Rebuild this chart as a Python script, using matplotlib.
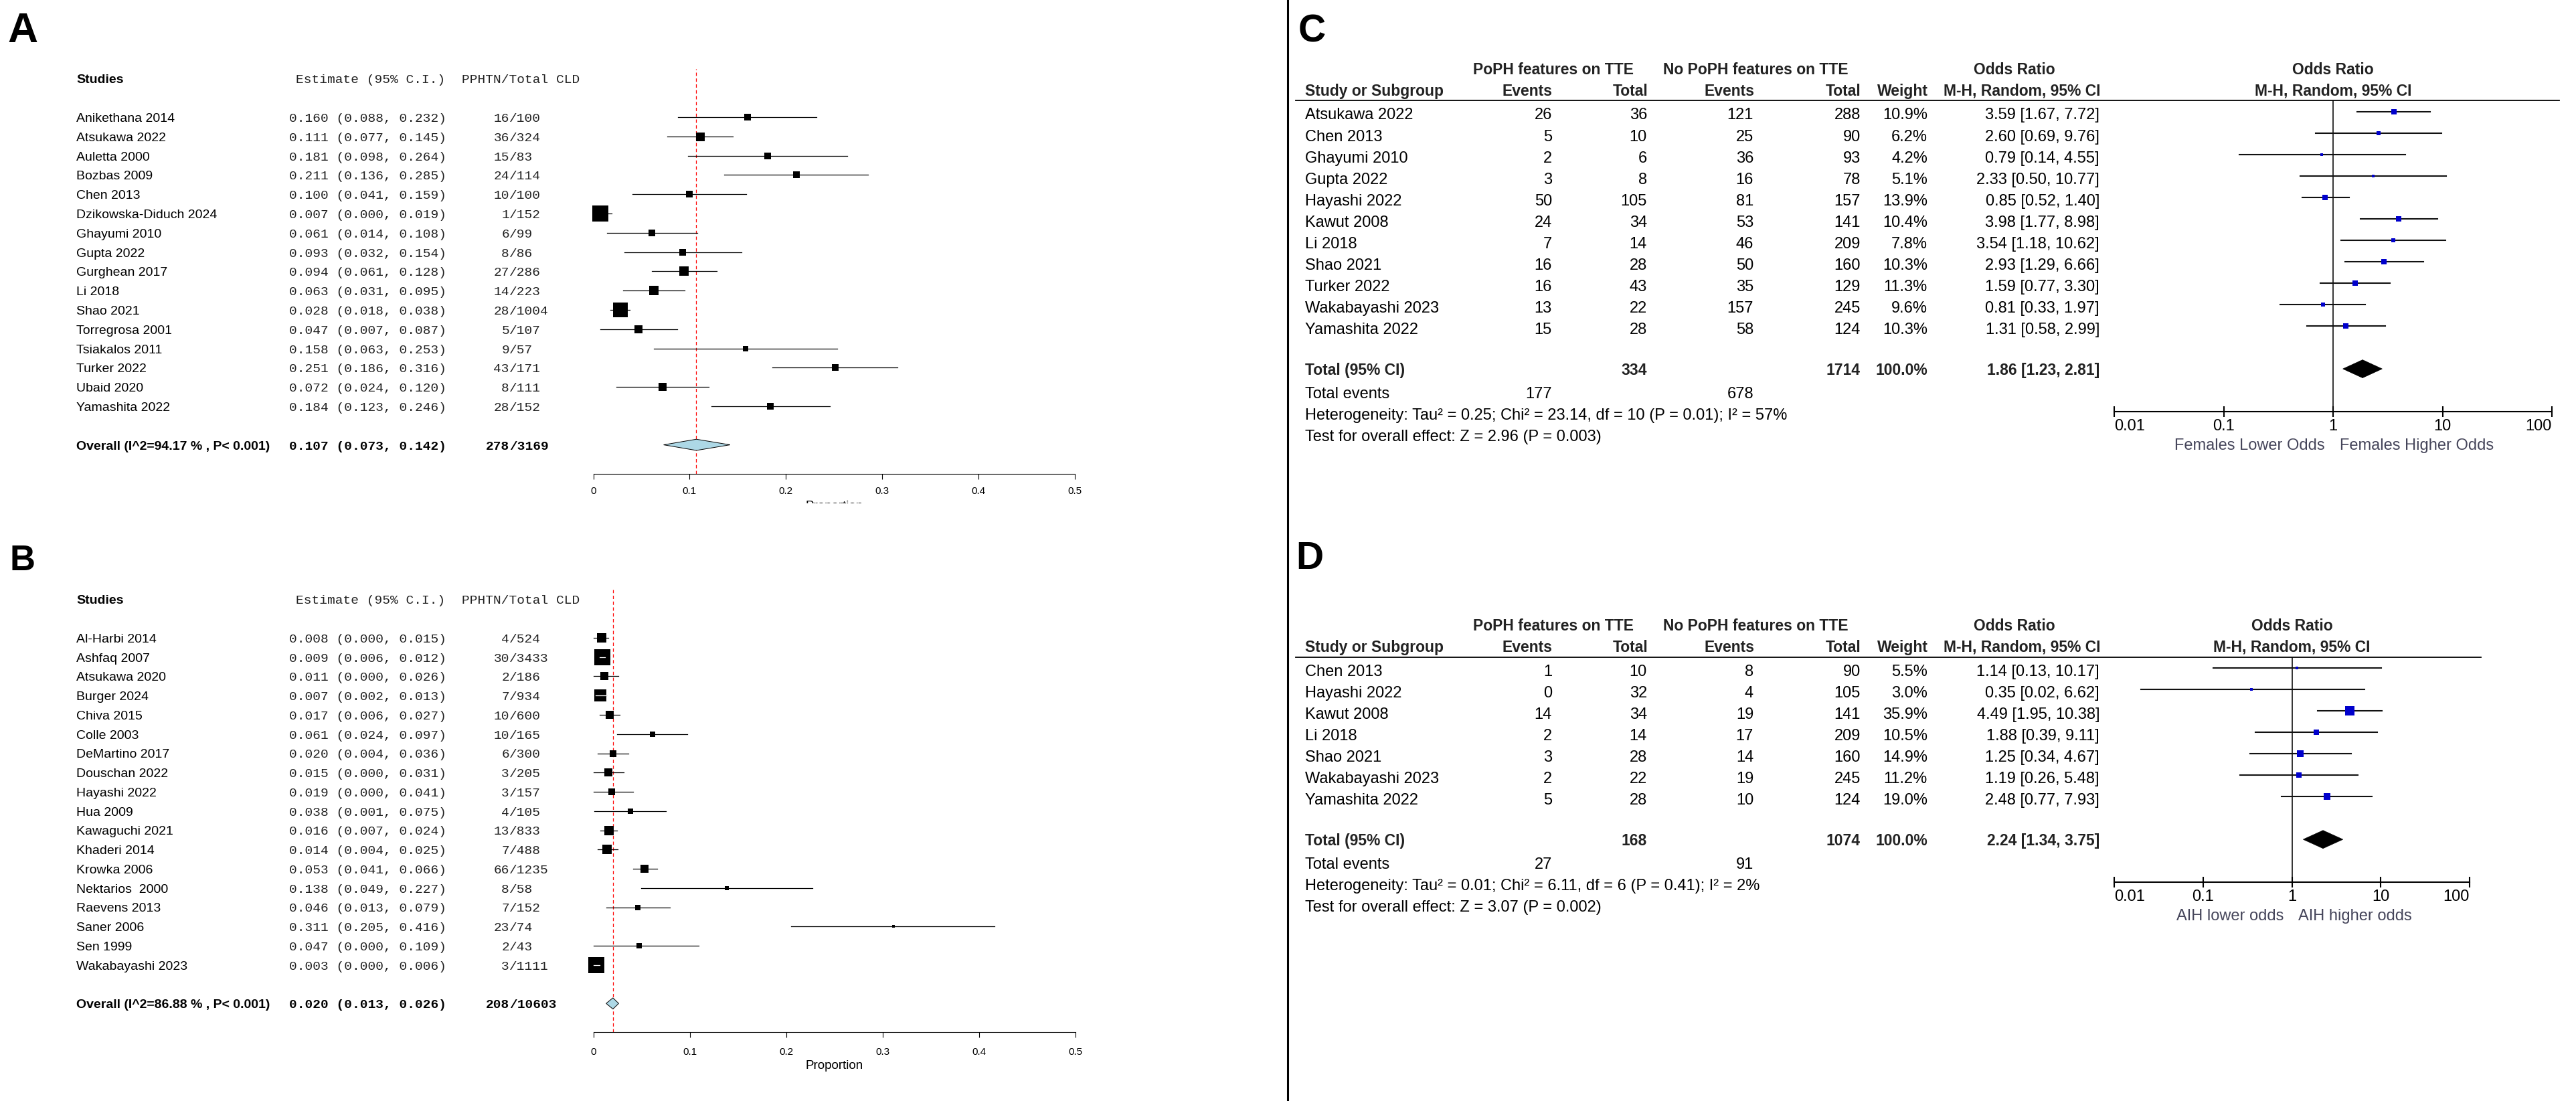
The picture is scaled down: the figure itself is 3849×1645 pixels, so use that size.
import numpy as np
import matplotlib
matplotlib.use("Agg")
import matplotlib.pyplot as plt
from matplotlib.patches import Polygon
from matplotlib.lines import Line2D
from matplotlib.ticker import NullLocator
from matplotlib.transforms import blended_transform_factory, offset_copy, Bbox, TransformedBbox

## ---- Panel A: PPHTN in chronic liver disease ----
studies_a = ["Anikethana 2014", "Atsukawa 2022", "Auletta 2000", "Bozbas 2009", "Chen 2013",
             "Dzikowska-Diduch 2024", "Ghayumi 2010", "Gupta 2022", "Gurghean 2017", "Li 2018",
             "Shao 2021", "Torregrosa 2001", "Tsiakalos 2011", "Turker 2022", "Ubaid 2020",
             "Yamashita 2022"]
est_a = [0.160, 0.111, 0.181, 0.211, 0.100, 0.007, 0.061, 0.093, 0.094, 0.063, 0.028, 0.047,
         0.158, 0.251, 0.072, 0.184]
lo_a = [0.088, 0.077, 0.098, 0.136, 0.041, 0.000, 0.014, 0.032, 0.061, 0.031, 0.018, 0.007,
        0.063, 0.186, 0.024, 0.123]
hi_a = [0.232, 0.145, 0.264, 0.285, 0.159, 0.019, 0.108, 0.154, 0.128, 0.095, 0.038, 0.087,
        0.253, 0.316, 0.120, 0.246]
cases_a = [16, 36, 15, 24, 10, 1, 6, 8, 27, 14, 28, 5, 9, 43, 8, 28]
total_a = [100, 324, 83, 114, 100, 152, 99, 86, 286, 223, 1004, 107, 57, 171, 111, 152]
# relative study weights
wt_a = [10, 13, 9.3, 9.3, 10.6, 24, 10.6, 10.6, 13.3, 14, 23, 12, 8, 9.3, 11.3, 10]
pooled_a = [0.107, 0.073, 0.142]
i2_a = 94.17

## ---- Panel B ----
studies_b = ["Al-Harbi 2014", "Ashfaq 2007", "Atsukawa 2020", "Burger 2024", "Chiva 2015",
             "Colle 2003", "DeMartino 2017", "Douschan 2022", "Hayashi 2022", "Hua 2009",
             "Kawaguchi 2021", "Khaderi 2014", "Krowka 2006", "Nektarios  2000", "Raevens 2013",
             "Saner 2006", "Sen 1999", "Wakabayashi 2023"]
est_b = [0.008, 0.009, 0.011, 0.007, 0.017, 0.061, 0.020, 0.015, 0.019, 0.038, 0.016, 0.014,
         0.053, 0.138, 0.046, 0.311, 0.047, 0.003]
lo_b = [0.000, 0.006, 0.000, 0.002, 0.006, 0.024, 0.004, 0.000, 0.000, 0.001, 0.007, 0.004,
        0.041, 0.049, 0.013, 0.205, 0.000, 0.000]
hi_b = [0.015, 0.012, 0.026, 0.013, 0.027, 0.097, 0.036, 0.031, 0.041, 0.075, 0.024, 0.025,
        0.066, 0.227, 0.079, 0.416, 0.109, 0.006]
cases_b = [4, 30, 2, 7, 10, 10, 6, 3, 3, 4, 13, 7, 66, 8, 7, 23, 2, 3]
total_b = [524, 3433, 186, 934, 600, 165, 300, 205, 157, 105, 833, 488, 1235, 58, 152, 74, 43, 1111]
wt_b = [14, 24, 12, 18, 12.6, 7.3, 10.6, 11.3, 10, 7.3, 14, 13.3, 12, 5.3, 8, 4, 7.3, 24]
pooled_b = [0.020, 0.013, 0.026]
i2_b = 86.88

prop_ticks = [0, 0.1, 0.2, 0.3, 0.4, 0.5]
prop_tick_labels = ["0", "0.1", "0.2", "0.3", "0.4", "0.5"]

## ---- Panel C: odds ratio, females ----
studies_c = ["Atsukawa 2022", "Chen 2013", "Ghayumi 2010", "Gupta 2022", "Hayashi 2022",
             "Kawut 2008", "Li 2018", "Shao 2021", "Turker 2022", "Wakabayashi 2023",
             "Yamashita 2022"]
ev1_c = [26, 5, 2, 3, 50, 24, 7, 16, 16, 13, 15]
tot1_c = [36, 10, 6, 8, 105, 34, 14, 28, 43, 22, 28]
ev2_c = [121, 25, 36, 16, 81, 53, 46, 50, 35, 157, 58]
tot2_c = [288, 90, 93, 78, 157, 141, 209, 160, 129, 245, 124]
wt_c = [10.9, 6.2, 4.2, 5.1, 13.9, 10.4, 7.8, 10.3, 11.3, 9.6, 10.3]
or_c = [3.59, 2.60, 0.79, 2.33, 0.85, 3.98, 3.54, 2.93, 1.59, 0.81, 1.31]
orlo_c = [1.67, 0.69, 0.14, 0.50, 0.52, 1.77, 1.18, 1.29, 0.77, 0.33, 0.58]
orhi_c = [7.72, 9.76, 4.55, 10.77, 1.40, 8.98, 10.62, 6.66, 3.30, 1.97, 2.99]
pooled_c = [1.86, 1.23, 2.81]
het_c = "Heterogeneity: Tau² = 0.25; Chi² = 23.14, df = 10 (P = 0.01); I² = 57%"
test_c = "Test for overall effect: Z = 2.96 (P = 0.003)"
foot_c = ["Females Lower Odds", "Females Higher Odds"]

## ---- Panel D: odds ratio, AIH ----
studies_d = ["Chen 2013", "Hayashi 2022", "Kawut 2008", "Li 2018", "Shao 2021",
             "Wakabayashi 2023", "Yamashita 2022"]
ev1_d = [1, 0, 14, 2, 3, 2, 5]
tot1_d = [10, 32, 34, 14, 28, 22, 28]
ev2_d = [8, 4, 19, 17, 14, 19, 10]
tot2_d = [90, 105, 141, 209, 160, 245, 124]
wt_d = [5.5, 3.0, 35.9, 10.5, 14.9, 11.2, 19.0]
or_d = [1.14, 0.35, 4.49, 1.88, 1.25, 1.19, 2.48]
orlo_d = [0.13, 0.02, 1.95, 0.39, 0.34, 0.26, 0.77]
orhi_d = [10.17, 6.62, 10.38, 9.11, 4.67, 5.48, 7.93]
pooled_d = [2.24, 1.34, 3.75]
het_d = "Heterogeneity: Tau² = 0.01; Chi² = 6.11, df = 6 (P = 0.41); I² = 2%"
test_d = "Test for overall effect: Z = 3.07 (P = 0.002)"
foot_d = ["AIH lower odds", "AIH higher odds"]

or_ticks = [0.01, 0.1, 1, 10, 100]
or_tick_labels = ["0.01", "0.1", "1", "10", "100"]

## ---- figure ----
W, H, DPI = 3849, 1645, 100
plt.rcParams['font.family'] = ['Liberation Sans', 'DejaVu Sans']
MONO = ['Liberation Mono', 'DejaVu Sans Mono']

fig = plt.figure(figsize=(W / DPI, H / DPI), dpi=DPI)
fig.patch.set_facecolor('white')


def add_ax(x0, x1, y0, y1):
    ## axes placed in pixels of the canvas
    return fig.add_axes([x0 / W, 1 - y1 / H, (x1 - x0) / W, (y1 - y0) / H])


def put(ax, step, x, row, s, size, dy=0.0, **kw):
    ## table text: x in canvas pixels, y in row units of ax (row = centre of glyphs)
    tr = blended_transform_factory(fig.transFigure, ax.transData)
    y = row + (0.358 * size * DPI / 72 + dy) / step
    return ax.text(x / W, y, s, transform=tr, fontsize=size, va='baseline', **kw)


def prop_forest(names, est, lo, hi, cases, total, wt, pooled, i2, row0, step, x0, x1,
                letter, letter_y, letter_size, tick_base, lab_base, clip_y=None):
    n = len(names)
    ax = add_ax(x0, x1, row0 - 2.5 * step, row0 + (n + 2.5) * step)
    ax.set_xlim(0, 0.5)
    ax.set_ylim(n + 2.5, -2.5)
    ax.patch.set_visible(False)
    for s in ['left', 'right', 'top']:
        ax.spines[s].set_visible(False)
    ax.spines['bottom'].set_linewidth(0.8)
    ax.set_yticks([])
    ax.set_xticks(prop_ticks)
    ax.tick_params(axis='x', direction='out', length=5.5, width=0.8, labelbottom=False)
    for t, lab in zip(prop_ticks, prop_tick_labels):
        ax.text(t, n + 2.5 + tick_base / step, lab, ha='center', va='baseline', fontsize=11)
    xl = ax.text(0.25, n + 2.5 + lab_base / step, 'Proportion', ha='center', va='baseline',
                 fontsize=13.5)
    if clip_y is not None:
        xl.set_clip_box(TransformedBbox(Bbox([[0, 1 - clip_y / H], [1, 1]]), fig.transFigure))
        xl.set_clip_on(True)

    ax.axvline(pooled[0], color='red', lw=0.9, ls=(0, (4, 3)), zorder=1)

    ppu = (x1 - x0) / 0.5
    for i in range(n):
        half = wt[i] / 2 / ppu
        ax.plot([lo[i], hi[i]], [i, i], color='black', lw=0.9, clip_on=False, zorder=2)
        ax.plot(est[i], i, marker='s', ms=wt[i] * 72 / DPI, color='black', mew=0,
                clip_on=False, zorder=3)
        if lo[i] >= est[i] - half and hi[i] <= est[i] + half:
            ax.plot([lo[i], hi[i]], [i, i], color='white', lw=0.9, clip_on=False, zorder=4)

    h = 0.29
    ax.add_patch(Polygon([[pooled[1], n + 1], [pooled[0], n + 1 - h], [pooled[2], n + 1],
                          [pooled[0], n + 1 + h]], closed=True, fc='#ADD8E6', ec='black',
                         lw=0.7, clip_on=False, zorder=3))

    ## table on the left
    put(ax, step, 114, -2, 'Studies', 14, fontweight='bold')
    put(ax, step, 442, -2, 'Estimate (95% C.I.)', 14, family=MONO, color='#222222')
    put(ax, step, 690, -2, 'PPHTN/Total CLD', 14, family=MONO, color='#222222')
    for i in range(n):
        put(ax, step, 114, i, names[i], 14)
        put(ax, step, 432, i, f"{est[i]:.3f} ({lo[i]:.3f}, {hi[i]:.3f})", 14, family=MONO,
            color='#222222')
        put(ax, step, 761, i, str(cases[i]), 14, family=MONO, color='#222222', ha='right')
        put(ax, step, 761, i, '/' + str(total[i]), 14, family=MONO, color='#222222')
    ov = n + 1
    put(ax, step, 114, ov, f"Overall (I^2={i2:.2f} % , P< 0.001)", 14, fontweight='bold')
    put(ax, step, 432, ov, f"{pooled[0]:.3f} ({pooled[1]:.3f}, {pooled[2]:.3f})", 14,
        family=MONO, fontweight='bold')
    put(ax, step, 761, ov, str(sum(cases)), 14, family=MONO, fontweight='bold', ha='right')
    put(ax, step, 761, ov, '/' + str(sum(total)), 14, family=MONO, fontweight='bold')

    fig.text(34 / W, 1 - letter_y / H, letter, ha='center', va='baseline',
             fontsize=letter_size, fontweight='bold')
    return ax


def or_forest(names, ev1, tot1, ev2, tot2, wt, orr, lo, hi, pooled, het, test, foot,
              row0, step, x1, line_end, letter, letter_xy):
    n = len(names)
    ax = add_ax(3159, x1, row0 - 0.5 * step, row0 + (n + 3) * step)
    ax.set_xscale('log')
    ax.set_xlim(0.01, 100)
    ax.set_ylim(n + 3, -0.5)
    ax.patch.set_visible(False)
    for s in ['left', 'right', 'top']:
        ax.spines[s].set_visible(False)
    ax.spines['bottom'].set_linewidth(1.5)
    ax.set_yticks([])
    ax.set_xticks(or_ticks)
    ax.xaxis.set_minor_locator(NullLocator())
    ax.tick_params(axis='x', direction='inout', length=11.5, width=1.5, labelbottom=False)
    ax.axvline(1, color='#333333', lw=1.4, zorder=1)

    fs, fb = 17, 16.5
    tk = blended_transform_factory(ax.transData, ax.transData)
    for k, (t, lab) in enumerate(zip(or_ticks, or_tick_labels)):
        ha = 'left' if k == 0 else ('right' if k == len(or_ticks) - 1 else 'center')
        ax.text(t, n + 3.6 + 0.358 * fs * DPI / 72 / step, lab, ha=ha, va='baseline',
                fontsize=fs, transform=tk)
    yf = n + 4.5 + 0.358 * fs * DPI / 72 / step
    ax.text(1, yf, foot[0], ha='right', va='baseline', fontsize=fs, color='#45455a',
            transform=offset_copy(ax.transData, fig=fig, x=-12, y=0, units='dots'))
    ax.text(1, yf, foot[1], ha='left', va='baseline', fontsize=fs, color='#45455a',
            transform=offset_copy(ax.transData, fig=fig, x=10, y=0, units='dots'))

    for i in range(n):
        ax.plot([lo[i], hi[i]], [i, i], color='#111111', lw=1.5, clip_on=False, zorder=2)
        side = 2.8 * np.sqrt(wt[i]) - 1.8
        ax.plot(orr[i], i, marker='s', ms=side * 72 / DPI, color='#0000CC', mew=0,
                clip_on=False, zorder=3)
    h = 0.42
    ax.add_patch(Polygon([[pooled[1], n + 1], [pooled[0], n + 1 - h], [pooled[2], n + 1],
                          [pooled[0], n + 1 + h]], closed=True, fc='black', ec='black',
                         lw=0.5, clip_on=False, zorder=3))

    ## header
    bt = blended_transform_factory(fig.transFigure, ax.transData)
    ax.plot([1936 / W, line_end / W], [-0.5, -0.5], transform=bt, color='black', lw=1.3,
            clip_on=False)
    hd = dict(fontweight='bold', color='#222222')
    put(ax, step, 2321, -2, 'PoPH features on TTE', fb, ha='center', **hd)
    put(ax, step, 2623, -2, 'No PoPH features on TTE', fb, ha='center', **hd)
    put(ax, step, 3010, -2, 'Odds Ratio', fb, ha='center', **hd)
    put(ax, step, 1950, -1, 'Study or Subgroup', fb, **hd)
    put(ax, step, 2319, -1, 'Events', fb, ha='right', **hd)
    put(ax, step, 2462, -1, 'Total', fb, ha='right', **hd)
    put(ax, step, 2621, -1, 'Events', fb, ha='right', **hd)
    put(ax, step, 2781, -1, 'Total', fb, ha='right', **hd)
    put(ax, step, 2881, -1, 'Weight', fb, ha='right', **hd)
    put(ax, step, 3138, -1, 'M-H, Random, 95% CI', fb, ha='right', **hd)
    yh = 0.358 * fb * DPI / 72 / step
    ax.text(1, -2 + yh, 'Odds Ratio', ha='center', va='baseline', fontsize=fb, **hd)
    ax.text(1, -1 + yh, 'M-H, Random, 95% CI', ha='center', va='baseline', fontsize=fb, **hd)

    ## rows
    dy = 3.5
    for i in range(n):
        put(ax, step, 1950, i, names[i], fs, dy)
        put(ax, step, 2319, i, str(ev1[i]), fs, dy, ha='right')
        put(ax, step, 2461, i, str(tot1[i]), fs, dy, ha='right')
        put(ax, step, 2620, i, str(ev2[i]), fs, dy, ha='right')
        put(ax, step, 2780, i, str(tot2[i]), fs, dy, ha='right')
        put(ax, step, 2880, i, f"{wt[i]:.1f}%", fs, dy, ha='right')
        put(ax, step, 3137, i, f"{orr[i]:.2f} [{lo[i]:.2f}, {hi[i]:.2f}]", fs, dy, ha='right')

    t = n + 1
    put(ax, step, 1950, t, 'Total (95% CI)', fb, 1, **hd)
    put(ax, step, 2461, t, str(sum(tot1)), fb, 1, ha='right', **hd)
    put(ax, step, 2780, t, str(sum(tot2)), fb, 1, ha='right', **hd)
    put(ax, step, 2880, t, '100.0%', fb, 1, ha='right', **hd)
    put(ax, step, 3137, t, f"{pooled[0]:.2f} [{pooled[1]:.2f}, {pooled[2]:.2f}]", fb, 1,
        ha='right', **hd)
    put(ax, step, 1950, n + 2, 'Total events', fs, dy)
    put(ax, step, 2319, n + 2, str(sum(ev1)), fs, dy, ha='right')
    put(ax, step, 2620, n + 2, str(sum(ev2)), fs, dy, ha='right')
    put(ax, step, 1950, n + 3, het, fs, dy)
    put(ax, step, 1950, n + 4, test, fs, dy)

    fig.text(letter_xy[0] / W, 1 - letter_xy[1] / H, letter, ha='center', va='baseline',
             fontsize=41, fontweight='bold')
    return ax


prop_forest(studies_a, est_a, lo_a, hi_a, cases_a, total_a, wt_a, pooled_a, i2_a,
            row0=175, step=28.8, x0=886.5, x1=1606, letter='A', letter_y=63, letter_size=45,
            tick_base=30, lab_base=53, clip_y=752)
prop_forest(studies_b, est_b, lo_b, hi_b, cases_b, total_b, wt_b, pooled_b, i2_b,
            row0=953, step=28.75, x0=887, x1=1607, letter='B', letter_y=852, letter_size=38,
            tick_base=33.5, lab_base=54.5)

or_forest(studies_c, ev1_c, tot1_c, ev2_c, tot2_c, wt_c, or_c, orlo_c, orhi_c, pooled_c,
          het_c, test_c, foot_c, row0=166.5, step=32.05, x1=3813, line_end=3824,
          letter='C', letter_xy=(1960, 62.5))
or_forest(studies_d, ev1_d, tot1_d, ev2_d, tot2_d, wt_d, or_d, orlo_d, orhi_d, pooled_d,
          het_d, test_d, foot_d, row0=997.6, step=32.07, x1=3690, line_end=3707,
          letter='D', letter_xy=(1957, 850))

## divider between left and right halves
fig.add_artist(Line2D([1923.5 / W, 1923.5 / W], [0, 1], transform=fig.transFigure,
                      color='black', lw=2.2))

fig.savefig('out.png', dpi=DPI, facecolor='white')
